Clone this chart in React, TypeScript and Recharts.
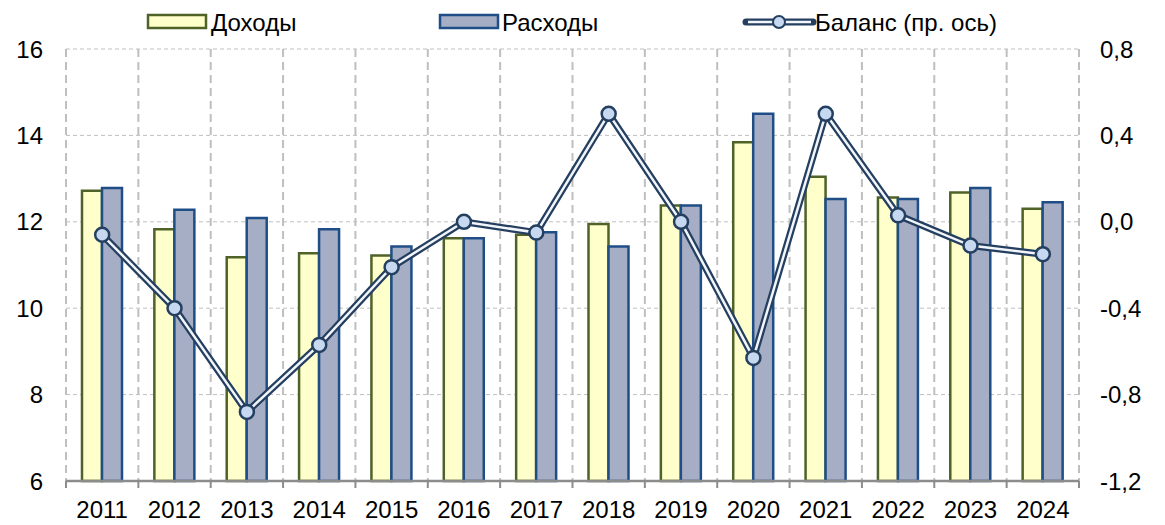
import React from 'react';
import { ComposedChart, Bar, Line, XAxis, YAxis, CartesianGrid, Legend } from 'recharts';

const years = ['2011', '2012', '2013', '2014', '2015', '2016', '2017', '2018', '2019', '2020', '2021', '2022', '2023', '2024'];
const revenues = [12.72, 11.83, 11.18, 11.27, 11.22, 11.62, 11.7, 11.95, 12.38, 13.84, 13.04, 12.56, 12.68, 12.3];
const expenses = [12.78, 12.28, 12.09, 11.83, 11.43, 11.62, 11.76, 11.43, 12.38, 14.5, 12.53, 12.53, 12.78, 12.45];
const balance = [-0.06, -0.4, -0.88, -0.57, -0.21, 0.0, -0.05, 0.5, 0.0, -0.63, 0.5, 0.03, -0.11, -0.15];
const leftTicks = [6, 8, 10, 12, 14, 16];
const rightTicks = [-1.2, -0.8, -0.4, 0, 0.4, 0.8];

const labels = { rev: 'Доходы', exp: 'Расходы', bal: 'Баланс (пр. ось)' };

const data = years.map((y, i) => ({ year: y, rev: revenues[i], exp: expenses[i], bal: balance[i] }));

const FONT = '"Liberation Sans", Arial, sans-serif';
const FS = 24;
const YELLOW_FILL = '#FFFFCC';
const YELLOW_STROKE = '#4F6228';
const BLUE_FILL = '#A6AEC5';
const BLUE_STROKE = '#1F4E87';
const LINE_DARK = '#243F60';
const LINE_INNER = '#F2F5FA';
const DOT_FILL = '#C6D9F1';
const AXIS_GRAY = '#8C8C8C';

const CHART_W = 1165;
const CHART_H = 525;
const LEFT_W = 66;
const RIGHT_W = 86;
const BAND = (CHART_W - LEFT_W - RIGHT_W) / years.length;
const TICK_MARGIN = 20;

const fmtRight = (v: number) => v.toFixed(1).replace('.', ',');

const XTick = (props: any) => {
  const { x, y, payload, index } = props;
  const axisY = y - TICK_MARGIN;
  return (
    <g>
      <line x1={x - BAND / 2} y1={axisY} x2={x - BAND / 2} y2={axisY + 7} stroke={AXIS_GRAY} strokeWidth={2} />
      {index === years.length - 1 && (
        <line x1={x + BAND / 2} y1={axisY} x2={x + BAND / 2} y2={axisY + 7} stroke={AXIS_GRAY} strokeWidth={2} />
      )}
      <text x={x} y={y} dy="0.71em" textAnchor="middle" fill="#000" fontSize={FS} fontFamily={FONT}>
        {payload.value}
      </text>
    </g>
  );
};

const CustomLegend = () => (
  <svg width={CHART_W} height={45} style={{ display: 'block' }}>
    <g fontFamily={FONT} fontSize={FS} fill="#000">
      <rect x={148} y={15} width={58} height={13} fill={YELLOW_FILL} stroke={YELLOW_STROKE} strokeWidth={2.5} />
      <text x={211} y={22} dominantBaseline="central">{labels.rev}</text>
      <rect x={440} y={15} width={58} height={13} fill={BLUE_FILL} stroke={BLUE_STROKE} strokeWidth={2.5} />
      <text x={502} y={22} dominantBaseline="central">{labels.exp}</text>
      <line x1={746} y1={22} x2={813} y2={22} stroke={LINE_DARK} strokeWidth={7} strokeLinecap="round" />
      <line x1={748} y1={22} x2={811} y2={22} stroke={LINE_INNER} strokeWidth={2.5} />
      <circle cx={779} cy={22} r={6} fill={DOT_FILL} stroke={LINE_DARK} strokeWidth={2} />
      <text x={815} y={22} dominantBaseline="central">{labels.bal}</text>
    </g>
  </svg>
);

const verticalGen = ({ offset }: any) => {
  const out: number[] = [];
  for (let i = 0; i <= years.length; i++) out.push(offset.left + (i * offset.width) / years.length);
  return out;
};

export default function App() {
  return (
    <div style={{ position: 'absolute', left: 0, top: 0, width: CHART_W, height: CHART_H, background: '#fff' }}>
      <ComposedChart
        width={CHART_W}
        height={CHART_H}
        data={data}
        margin={{ top: 49, right: 0, bottom: 0, left: 0 }}
        barGap={0}
        style={{ fontFamily: FONT }}
      >
        <CartesianGrid yAxisId="left" horizontal={true} vertical={false} stroke="#BFBFBF" strokeDasharray="4 3" strokeWidth={1} />
        <CartesianGrid
          yAxisId="left"
          horizontal={false}
          vertical={true}
          verticalCoordinatesGenerator={verticalGen}
          stroke="#BFBFBF"
          strokeDasharray="8 5"
          strokeWidth={2}
        />
        <XAxis
          dataKey="year"
          height={44}
          axisLine={{ stroke: AXIS_GRAY, strokeWidth: 2.5 }}
          tickLine={false}
          tickSize={0}
          tickMargin={TICK_MARGIN}
          interval={0}
          tick={<XTick />}
        />
        <YAxis
          yAxisId="left"
          width={LEFT_W}
          domain={[6, 16]}
          ticks={leftTicks}
          axisLine={false}
          tickLine={false}
          tickSize={0}
          tickMargin={23}
          tick={{ fill: '#000', fontSize: FS, fontFamily: FONT }}
        />
        <YAxis
          yAxisId="right"
          orientation="right"
          width={RIGHT_W}
          domain={[-1.2, 0.8]}
          ticks={rightTicks}
          tickFormatter={fmtRight}
          axisLine={false}
          tickLine={false}
          tickSize={0}
          tickMargin={21}
          tick={{ fill: '#000', fontSize: FS, fontFamily: FONT }}
        />
        <Legend
          layout="horizontal"
          verticalAlign="middle"
          align="center"
          wrapperStyle={{ top: 0, left: 0, width: CHART_W, height: 45 }}
          content={() => <CustomLegend />}
        />
        <Bar yAxisId="left" dataKey="rev" name={labels.rev} barSize={20} fill={YELLOW_FILL} stroke={YELLOW_STROKE} strokeWidth={2.5} isAnimationActive={false} />
        <Bar yAxisId="left" dataKey="exp" name={labels.exp} barSize={20} fill={BLUE_FILL} stroke={BLUE_STROKE} strokeWidth={2.5} isAnimationActive={false} />
        <Line yAxisId="right" dataKey="bal" name={labels.bal} type="linear" stroke={LINE_DARK} strokeWidth={7} dot={false} activeDot={false} isAnimationActive={false} legendType="none" />
        <Line
          yAxisId="right"
          dataKey="bal"
          name={labels.bal}
          type="linear"
          stroke={LINE_INNER}
          strokeWidth={2.5}
          dot={{ r: 7, fill: DOT_FILL, stroke: LINE_DARK, strokeWidth: 2.5 }}
          activeDot={false}
          isAnimationActive={false}
        />
      </ComposedChart>
    </div>
  );
}
